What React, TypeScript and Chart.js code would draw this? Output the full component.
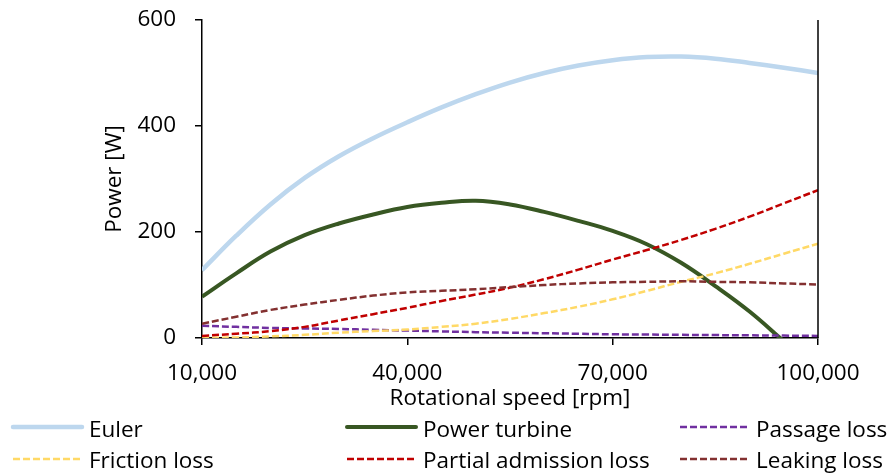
import React, { useEffect, useRef } from "react";
import { Chart, registerables } from "chart.js";

Chart.register(...registerables);

const rpm = [10000, 15000, 20000, 25000, 30000, 35000, 40000, 45000, 50000, 55000, 60000, 65000, 70000, 75000, 80000, 85000, 90000, 95000, 100000];
const euler = [128, 193, 252, 302, 343, 377, 407, 435, 460, 482, 500, 514, 524, 530, 531, 527, 519, 510, 500];
const powerTurbine = [78, 122, 163, 194, 216, 233, 247, 255, 259, 252, 238, 221, 202, 177, 142, 98, 50, -6, null];
const passageLoss = [23, 21, 19, 18, 17, 15.5, 14, 12.5, 11, 10, 9, 8, 7, 6.5, 6, 5.5, 5, 4.5, 4];
const frictionLoss = [0, 1, 3, 6, 10, 13, 16, 21, 27, 36, 47, 59, 73, 89, 106, 122, 140, 159, 178];
const partialAdmissionLoss = [4, 8, 13, 21, 33, 45, 57, 70, 82, 95, 111, 129, 148, 166, 185, 206, 229, 254, 279];
const leakingLoss = [27, 40, 53, 63, 72, 80, 86, 89, 92, 96, 100, 103, 105, 106, 107, 106, 105, 103, 101];

const xTicks = [10000, 40000, 70000, 100000];
const yTicks = [0, 200, 400, 600];

const seriesNames = ["Euler", "Power turbine", "Passage loss", "Friction loss", "Partial admission loss", "Leaking loss"];
const seriesValues = [euler, powerTurbine, passageLoss, frictionLoss, partialAdmissionLoss, leakingLoss];
const seriesColors = ["#BDD7EE", "#385723", "#7030A0", "#FFD966", "#C00000", "#833030"];
const seriesWidths = [4.5, 4, 2.5, 2.5, 2.5, 2.5];
const seriesDashed = [false, false, true, true, true, true];

const FONT = "'Open Sans', Lato, sans-serif";
const FS = 22.5;

const legendPlugin = {
  id: "customLegend",
  afterDraw(chart: any) {
    const ctx = chart.ctx;
    const colX = [13, 347, 680];
    const rowLineY = [427, 459];
    const rowTextY = [437, 468];
    const lineLen = 69;
    ctx.save();
    ctx.font = `${FS}px ${FONT}`;
    ctx.textBaseline = "alphabetic";
    ctx.textAlign = "left";
    seriesNames.forEach((name, i) => {
      const col = i % 3;
      const row = Math.floor(i / 3);
      const x = colX[col];
      const y = rowLineY[row];
      ctx.beginPath();
      ctx.strokeStyle = seriesColors[i];
      ctx.lineWidth = seriesDashed[i] ? 2.5 : (i === 0 ? 4.5 : 4);
      ctx.lineCap = seriesDashed[i] ? "butt" : "round";
      ctx.setLineDash(seriesDashed[i] ? [7, 3] : []);
      ctx.moveTo(x, y);
      ctx.lineTo(x + lineLen, y);
      ctx.stroke();
      ctx.setLineDash([]);
      ctx.fillStyle = "#000";
      ctx.fillText(name, x + lineLen + 7, rowTextY[row]);
    });
    ctx.restore();
  },
};

const frameLine = {
  id: "frameLine",
  afterDraw(chart: any) {
    const { ctx, chartArea } = chart;
    ctx.save();
    ctx.strokeStyle = "#000";
    ctx.lineWidth = 1.5;
    ctx.beginPath();
    ctx.moveTo(chartArea.right, chartArea.top);
    ctx.lineTo(chartArea.right, chartArea.bottom);
    ctx.stroke();
    ctx.restore();
  },
};

export default function App() {
  const ref = useRef<HTMLCanvasElement | null>(null);
  useEffect(() => {
    if (!ref.current) return;
    const datasets = seriesNames.map((name, i) => ({
      label: name,
      data: rpm.map((x, j) => ({ x, y: seriesValues[i][j] })),
      borderColor: seriesColors[i],
      backgroundColor: seriesColors[i],
      borderWidth: seriesWidths[i],
      borderDash: seriesDashed[i] ? [7, 3] : [],
      pointRadius: 0,
      tension: 0.4,
      fill: false,
      spanGaps: false,
      order: seriesNames.length - i,
    }));
    const chart = new Chart(ref.current, {
      type: "line",
      data: { datasets },
      plugins: [legendPlugin, frameLine],
      options: {
        animation: false,
        responsive: false,
        layout: { padding: { left: 0, right: 71, top: 20, bottom: 60 } },
        plugins: { legend: { display: false }, tooltip: { enabled: false } },
        scales: {
          x: {
            type: "linear",
            min: 10000,
            max: 100000,
            afterBuildTicks(scale: any) {
              scale.ticks = xTicks.map((v) => ({ value: v }));
            },
            afterFit(scale: any) {
              scale.height = 75;
            },
            ticks: {
              color: "#000",
              font: { family: FONT, size: FS },
              padding: 15,
              maxRotation: 0,
              callback: (v: any) => Number(v).toLocaleString("en-US"),
            },
            grid: { drawOnChartArea: false, drawTicks: true, tickLength: 7, color: "#000", lineWidth: 1.5 },
            border: { display: true, color: "#000", width: 1.5 },
            title: {
              display: true,
              text: "Rotational speed [rpm]",
              color: "#000",
              font: { family: FONT, size: FS },
              padding: { top: 0, bottom: 1 },
            },
          },
          y: {
            type: "linear",
            min: 0,
            max: 600,
            afterBuildTicks(scale: any) {
              scale.ticks = yTicks.map((v) => ({ value: v }));
            },
            afterFit(scale: any) {
              scale.width = 202;
              scale.paddingTop = 0;
              scale.paddingBottom = 0;
            },
            ticks: {
              color: "#000",
              font: { family: FONT, size: FS },
              padding: 19,
            },
            grid: { drawOnChartArea: false, drawTicks: true, tickLength: 7, color: "#000", lineWidth: 1.5 },
            border: { display: true, color: "#000", width: 1.5 },
            title: {
              display: true,
              text: "Power [W]",
              color: "#000",
              font: { family: FONT, size: FS },
              padding: { top: 101, bottom: 0 },
            },
          },
        },
      },
    });
    return () => chart.destroy();
  }, []);
  return (
    <canvas
      ref={ref}
      width={889}
      height={473}
      style={{ position: "absolute", left: 0, top: 0, width: 889, height: 473, display: "block" }}
    />
  );
}
